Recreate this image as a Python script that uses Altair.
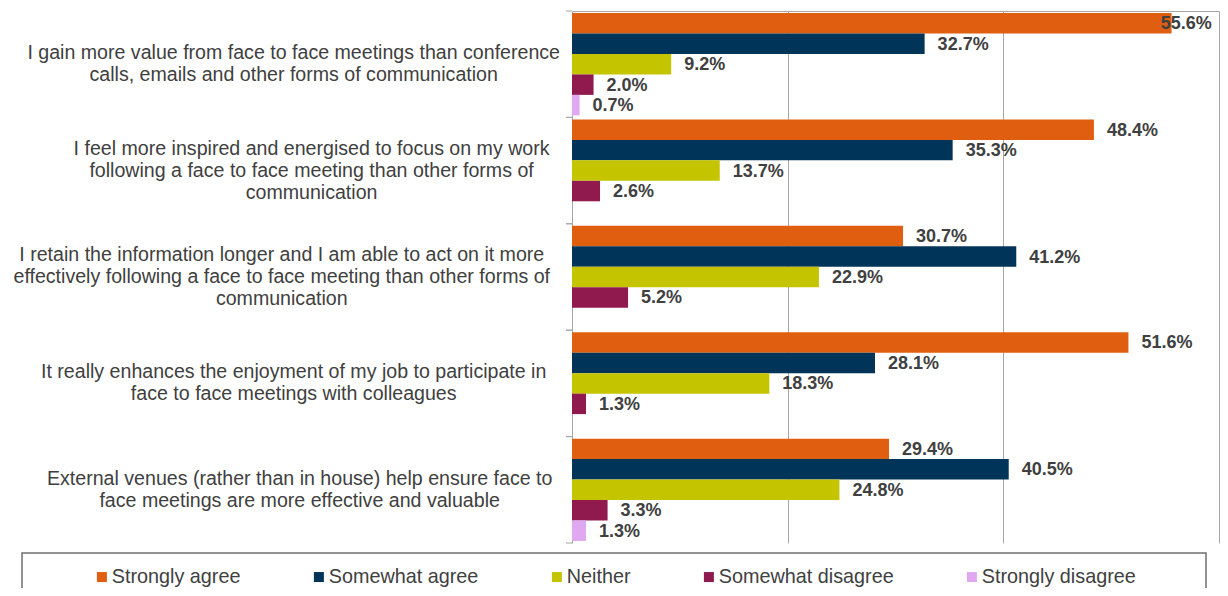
import altair as alt
import pandas as pd

# ---- data ----
category_lines = [
    ["I gain more value from face to face meetings than conference",
     "calls, emails and other forms of communication"],
    ["I feel more inspired and energised to focus on my work",
     "following a face to face meeting than other forms of",
     "communication"],
    ["I retain the information longer and I am able to act on it more",
     "effectively following a face to face meeting than other forms of",
     "communication"],
    ["It really enhances the enjoyment of my job to participate in",
     "face to face meetings with colleagues"],
    ["External venues (rather than in house) help ensure face to",
     "face meetings are more effective and valuable"],
]
series = ["Strongly agree", "Somewhat agree", "Neither",
          "Somewhat disagree", "Strongly disagree"]
colors = ["#E05E10", "#003458", "#C4C400", "#901A4E", "#E0A8F0"]

strongly_agree = [55.6, 48.4, 30.7, 51.6, 29.4]
somewhat_agree = [32.7, 35.3, 41.2, 28.1, 40.5]
neither = [9.2, 13.7, 22.9, 18.3, 24.8]
somewhat_disagree = [2.0, 2.6, 5.2, 1.3, 3.3]
strongly_disagree = [0.7, None, None, None, 1.3]

categories = ["|".join(c) for c in category_lines]
values_by_series = [strongly_agree, somewhat_agree, neither,
                    somewhat_disagree, strongly_disagree]

rows = []
for s, vals in zip(series, values_by_series):
    for c, v in zip(categories, vals):
        if v is not None:
            rows.append({"cat": c, "s": s, "v": v})
df = pd.DataFrame(rows)
df_cats = pd.DataFrame({"cat": categories})

FONT = "Liberation Sans"
GRID = "#A6A6A6"
TXT = "#404040"

# centre each wrapped label block so that its widest line ends near the axis
pad_expr = (
    "100 + 2.98 * max(length(split(datum.value, '|')[0]), "
    "length(split(datum.value, '|')[1] || ''), "
    "length(split(datum.value, '|')[2] || ''))"
)
# lift multi-line blocks so they are centred on their band
off_expr = "-11 * (length(split(datum.value, '|')) - 1)"

y_axis = alt.Axis(
    labelExpr="split(datum.label, '|')",
    labelAlign="center", labelBaseline="middle",
    labelPadding={"expr": pad_expr}, labelOffset={"expr": off_expr},
    labelLimit=1000, labelFont=FONT,
    labelFontSize=19.6, labelColor=TXT, labelLineHeight=22,
    ticks=False, domainColor=GRID, domainWidth=1, grid=False,
)
x_axis = alt.Axis(
    orient="top", values=[20, 40, 60], labels=False, ticks=False,
    domainColor=GRID, domainWidth=1, grid=True, gridColor=GRID, gridWidth=1,
)
y_scale = alt.Scale(paddingInner=0, paddingOuter=0)
x_scale = alt.Scale(domain=[0, 60], nice=False, zero=True)

y_offset = alt.YOffset(
    "s:N", sort=series,
    scale=alt.Scale(domain=series, paddingInner=0, paddingOuter=0.1),
)

bars = alt.Chart(df).mark_bar().encode(
    x=alt.X("v:Q", title=None, scale=x_scale, axis=x_axis),
    y=alt.Y("cat:N", sort=categories, title=None, scale=y_scale, axis=y_axis),
    yOffset=y_offset,
    color=alt.Color(
        "s:N", sort=series,
        scale=alt.Scale(domain=series, range=colors),
        legend=alt.Legend(
            title=None, orient="none", legendX=-480, legendY=556,
            direction="horizontal", symbolType="square", symbolSize=100,
            symbolStrokeWidth=0, labelFont=FONT, labelFontSize=19.8,
            labelColor=TXT, labelOffset=0, columnPadding=68, padding=0,
            labelLimit=1000,
        ),
    ),
)

labels = alt.Chart(df).transform_calculate(
    labx="min(datum.v, 53.4)",
    label="format(datum.v, '.1f') + '%'",
).mark_text(
    align="left", baseline="middle", dx=13, dy=1,
    font=FONT, fontSize=18, fontWeight="bold", color=TXT,
).encode(
    x=alt.X("labx:Q", title=None, scale=x_scale, axis=x_axis),
    y=alt.Y("cat:N", sort=categories, title=None, scale=y_scale, axis=y_axis),
    yOffset=y_offset,
    text="label:N",
)

ticks_start = alt.Chart(df_cats).mark_rule(color=GRID, strokeWidth=1).encode(
    y=alt.Y("cat:N", sort=categories, title=None, scale=y_scale,
            axis=y_axis, bandPosition=0),
    x=alt.value(-6), x2=alt.value(0),
)
ticks_end = alt.Chart(df_cats).mark_rule(color=GRID, strokeWidth=1).encode(
    y=alt.Y("cat:N", sort=categories, title=None, scale=y_scale,
            axis=y_axis, bandPosition=1),
    x=alt.value(-6), x2=alt.value(0),
)

legend_box = alt.Chart(alt.Data(values=[{"k": 1}])).mark_rect(
    fillOpacity=0, stroke="#6F6F6F", strokeWidth=1.5,
).encode(
    x=alt.value(-550), x2=alt.value(634),
    y=alt.value(542), y2=alt.value(600),
)

chart = alt.layer(bars, labels, ticks_start, ticks_end, legend_box).properties(
    width=647, height=532,
    autosize=alt.AutoSizeParams(type="none"),
    padding={"left": 564, "top": 3, "right": 1, "bottom": 45},
).configure_view(strokeWidth=0)

chart.save("out.html", embed_options={"renderer": "svg", "actions": False})
